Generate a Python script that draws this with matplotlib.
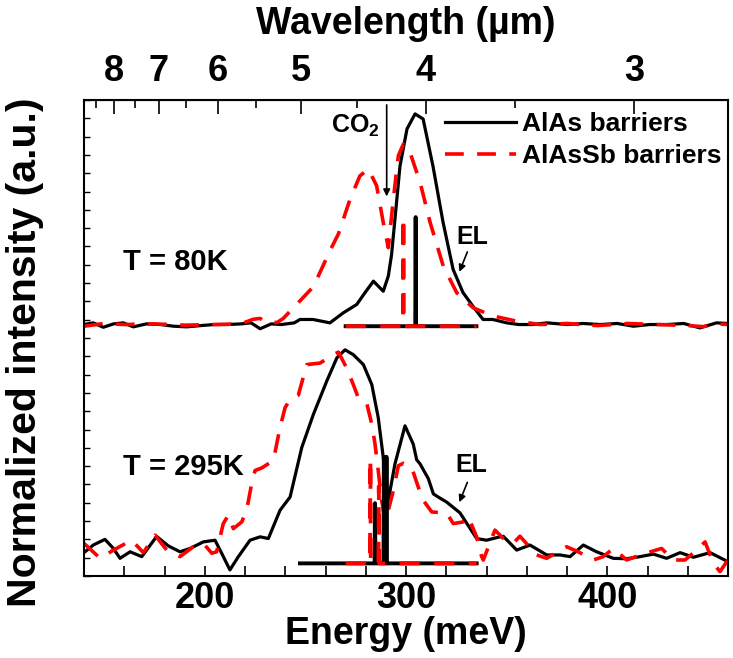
import matplotlib
matplotlib.use("Agg")
import matplotlib.pyplot as plt
import numpy as np
from matplotlib.ticker import MultipleLocator, FixedLocator

plt.rcParams["font.family"] = ["Liberation Sans", "DejaVu Sans"]
plt.rcParams["font.weight"] = "bold"
plt.rcParams["mathtext.fontset"] = "custom"
plt.rcParams["mathtext.rm"] = "Liberation Sans:bold"
plt.rcParams["mathtext.bf"] = "Liberation Sans:bold"

# ---- data (energy in meV, intensity normalised to the peak) ----
# T = 80 K, AlAs barriers
e80_alas = [140, 144.6, 149.6, 154.6, 159.5, 164.5, 171, 178, 184.5, 191, 198, 204.5,
            211, 218, 223, 227.5, 233, 238, 244.5, 247.3, 253.8, 258, 262.2, 268.9,
            275.5, 279.6, 283.8, 288.7, 291.2, 292.8, 294.5, 297.0, 300.5, 304.5,
            308.5, 313.4, 318.4, 323.4, 328.3, 333.3, 338.3, 343.2, 350, 356, 363,
            370, 380, 388, 396.4, 405, 413, 421, 429.5, 438, 446, 454.3, 460]
i80_alas = [0.0, 0.008, -0.013, 0.003, 0.008, -0.011, 0.003, 0.0, -0.008, -0.011, -0.005, 0.0,
            0.0, 0.003, 0.008, -0.02, 0.003, 0.0, 0.008, 0.024, 0.024, 0.016, 0.008, 0.056,
            0.095, 0.151, 0.206, 0.158, 0.23, 0.33, 0.5, 0.752, 0.929, 1.0,
            0.976, 0.752, 0.486, 0.262, 0.152, 0.086, 0.024, 0.024, 0.008, 0.0, 0.0,
            0.008, 0.0, 0.005, 0.0, 0.005, -0.008, 0.0, 0.0, 0.005, -0.016, 0.008, 0.005]

# T = 80 K, AlAsSb barriers
e80_alassb = [140, 150, 160, 175, 190, 205, 218, 224, 227.5, 231, 236, 239, 245.6, 254,
              262.2, 266.4, 272.2, 277.1, 281.3, 285.4, 288.7, 291.2, 293.7, 296.2,
              298.7, 302, 307, 312, 318.5, 325.2, 333.4, 343.4, 355, 366.6, 380, 395,
              410, 425, 440, 447.6, 455, 460]
i80_alassb = [-0.008, 0.005, 0.0, 0.003, -0.003, 0.0, 0.003, 0.025, 0.029, 0.008, 0.01, 0.029,
              0.095, 0.18, 0.35, 0.43, 0.595, 0.706, 0.738, 0.659, 0.484, 0.365, 0.595,
              0.802, 0.857, 0.817, 0.675, 0.484, 0.278, 0.151, 0.079, 0.04, 0.016, 0.0,
              0.005, -0.005, 0.005, 0.0, -0.005, -0.01, 0.003, 0.0]

# T = 295 K, AlAs barriers
e295_alas = [140, 144.6, 150.4, 154.6, 157.9, 162.9, 168.7, 176.1, 181.9, 187.7, 192.7,
             199.3, 205.1, 208.4, 212.5, 216.7, 222.5, 227.5, 231.6, 237.4, 242.4, 248.2,
             254, 260.6, 265.6, 269.7, 273.8, 278.8, 283, 286.2, 288.7, 291.2, 294.5,
             299.5, 303.6, 305.3, 307, 311.1, 313.6, 316, 320.2, 326.8, 335.1, 340,
             346.7, 348.4, 355, 361.6, 369.9, 376.5, 381.5, 388.1, 394.7, 403, 409.7,
             416.3, 422.9, 429.5, 436.2, 442.8, 451.1, 460]
i295_alas = [0.035, 0.071, 0.098, 0.055, 0.008, 0.039, 0.016, 0.112, 0.067, 0.039, 0.055,
             0.086, 0.094, 0.032, -0.047, 0.016, 0.094, 0.11, 0.102, 0.236, 0.299, 0.534,
             0.692, 0.849, 0.959, 0.998, 0.975, 0.928, 0.833, 0.676, 0.487, 0.283, 0.456,
             0.637, 0.55, 0.476, 0.456, 0.386, 0.314, 0.299, 0.275, 0.224, 0.102, 0.094,
             0.11, 0.112, 0.047, 0.071, 0.024, 0.024, 0.016, 0.071, 0.039, 0.008, 0.006,
             0.016, 0.028, 0.008, 0.035, 0.013, 0.035, -0.008]

# T = 295 K, AlAsSb barriers
e295_alassb = [140, 148, 154.6, 163.7, 169.5, 175.3, 181.1, 187.7, 194.3, 199.3, 203.5,
               205.9, 209.2, 211.7, 214.2, 218.4, 220.8, 223.3, 225, 228.3, 234.1, 237.4,
               239.9, 242.4, 246.5, 250.7, 257.3, 263.9, 266.4, 270.5, 273.8, 276.3,
               280.4, 283, 284.6, 286.2, 287.9, 289.6, 291.2, 293.7, 296.2, 298.7, 302.8,
               306.1, 308.6, 312.8, 320.2, 323.5, 328.5, 331, 335.1, 337.6, 338.4, 344.2,
               348.4, 353.3, 356.6, 364.9, 369.9, 379.8, 385.6, 393.1, 398, 403, 409.7,
               416.3, 427, 432.8, 438.6, 444.4, 448.6, 452.7, 456, 460]
i295_alassb = [0.079, 0.008, 0.047, 0.094, 0.035, 0.118, 0.047, 0.016, 0.063, 0.079, 0.032,
               0.039, 0.173, 0.212, 0.149, 0.181, 0.236, 0.362, 0.425, 0.437, 0.472, 0.629,
               0.723, 0.763, 0.783, 0.928, 0.935, 0.975, 0.987, 0.912, 0.833, 0.77,
               0.747, 0.645, 0.55, 0.425, 0.283, 0.189, 0.236, 0.33, 0.448, 0.459, 0.44,
               0.346, 0.283, 0.228, 0.223, 0.173, 0.181, 0.204, 0.11, 0.016, 0.0, 0.142,
               0.102, 0.079, 0.113, 0.024, 0.008, 0.063, 0.039, 0.0, 0.016, 0.055, 0.0,
               0.024, 0.055, 0.0, 0.0, 0.047, 0.086, -0.016, -0.055, 0.0]

# EL lines
el80_alas_e = [270, 304.6, 304.8, 305.0, 335]
el80_alas_i = [-0.008, -0.008, 0.51, -0.008, -0.008]
el80_alassb_e = [270, 298.5, 298.7, 298.9, 335]
el80_alassb_i = [-0.008, -0.008, 0.51, -0.008, -0.008]
el295_alas_e = [247.3, 284.4, 284.6, 284.8, 288.8, 289.0, 289.2, 290.1, 290.3, 290.5, 335.1]
el295_alas_i = [-0.016, -0.016, 0.27, -0.016, -0.016, 0.49, -0.016, -0.016, 0.49, -0.016, -0.016]
el295_alassb_e = [270, 282.1, 282.3, 282.5, 286.3, 286.5, 286.7, 335.1]
el295_alassb_i = [-0.016, -0.016, 0.48, -0.016, -0.016, 0.35, -0.016, -0.016]

off80 = 1.194
off295 = 0.076

fig = plt.figure(figsize=(7.33, 6.58), dpi=100)
ax = fig.add_axes([0.1146, 0.1246, 0.8786, 0.7234])

red_dash = (5.2, 3.7)
lw = 2.3

ax.plot(e80_alas, np.array(i80_alas) + off80, color="black", lw=lw, label="AlAs barriers")
ax.plot(e80_alassb, np.array(i80_alassb) + off80, color="red", lw=lw + 0.3,
        ls=(0, red_dash), label="AlAsSb barriers")
ax.plot(e295_alas, np.array(i295_alas) + off295, color="black", lw=lw)
ax.plot(e295_alassb, np.array(i295_alassb) + off295, color="red", lw=lw + 0.3, ls=(0, red_dash))

ax.plot(el80_alas_e, np.array(el80_alas_i) + off80, color="black", lw=2.8)
ax.plot(el80_alassb_e, np.array(el80_alassb_i) + off80, color="red", lw=2.8, ls=(0, red_dash))
ax.plot(el295_alas_e, np.array(el295_alas_i) + off295, color="black", lw=2.8)
ax.plot(el295_alassb_e, np.array(el295_alassb_i) + off295, color="red", lw=2.8, ls=(0, red_dash))

ax.set_xlim(140, 460)
ax.set_ylim(0, 2.26)
ax.set_xlabel("Energy (meV)", fontsize=27, fontweight="bold", labelpad=0)
ax.set_ylabel("Normalized intensity (a.u.)", fontsize=29.5, fontweight="bold")
ax.yaxis.set_label_coords(-0.062, 0.47)

ax.xaxis.set_major_locator(FixedLocator([200, 300, 400]))
ax.xaxis.set_minor_locator(MultipleLocator(20))
ax.yaxis.set_major_locator(MultipleLocator(2.26 / 26))
ax.tick_params(axis="x", which="both", direction="in", length=7, width=1.2,
               labelsize=26, top=False)
ax.tick_params(axis="y", which="both", direction="in", length=4, width=1,
               labelleft=False, right=False)
for lab in ax.get_xticklabels():
    lab.set_fontweight("bold")
for s in ax.spines.values():
    s.set_linewidth(1.5)


def e_to_wl(e):
    e = np.asarray(e, dtype=float)
    return 1239.84 / np.where(e == 0, 1e-9, e)


top = ax.secondary_xaxis("top", functions=(e_to_wl, e_to_wl))
top.set_xticks([8, 7, 6, 5, 4, 3])
top.xaxis.set_minor_locator(FixedLocator([8.5, 7.5, 6.5, 5.5, 4.5, 3.5]))
top.tick_params(which="major", direction="in", length=10, width=1.2, labelsize=26, pad=8)
top.tick_params(which="minor", direction="in", length=6, width=1.2)
top.set_xticklabels(["8", "7", "6", "5", "4", "3"], fontweight="bold")
top.set_xlabel("Wavelength (µm)", fontsize=27, fontweight="bold", labelpad=14)

# annotations
ax.text(287.1, 2.136, "CO$_2$", fontsize=18, ha="right", va="center")
ax.annotate("", xy=(290.4, 1.789), xytext=(290.4, 2.25),
            arrowprops=dict(arrowstyle="-|>", lw=1.2, color="black", mutation_scale=10))
ax.text(159.5, 1.491, "T = 80K", fontsize=21, ha="left", va="center")
ax.text(159.5, 0.516, "T = 295K", fontsize=21, ha="left", va="center")
ax.text(325.2, 1.61, "EL", fontsize=18, ha="left", va="center")
ax.annotate("", xy=(326, 1.432), xytext=(331, 1.551),
            arrowprops=dict(arrowstyle="-|>", lw=1.2, color="black", mutation_scale=10))
ax.text(324.3, 0.528, "EL", fontsize=18, ha="left", va="center")
ax.annotate("", xy=(326, 0.338), xytext=(331, 0.457),
            arrowprops=dict(arrowstyle="-|>", lw=1.2, color="black", mutation_scale=10))

ax.legend(loc="upper left", bbox_to_anchor=(0.56, 0.975), frameon=False, fontsize=19,
          handlelength=2.7, handletextpad=0.25, labelspacing=0.3, borderpad=0,
          borderaxespad=0)

fig.savefig("out.png", dpi=100)
